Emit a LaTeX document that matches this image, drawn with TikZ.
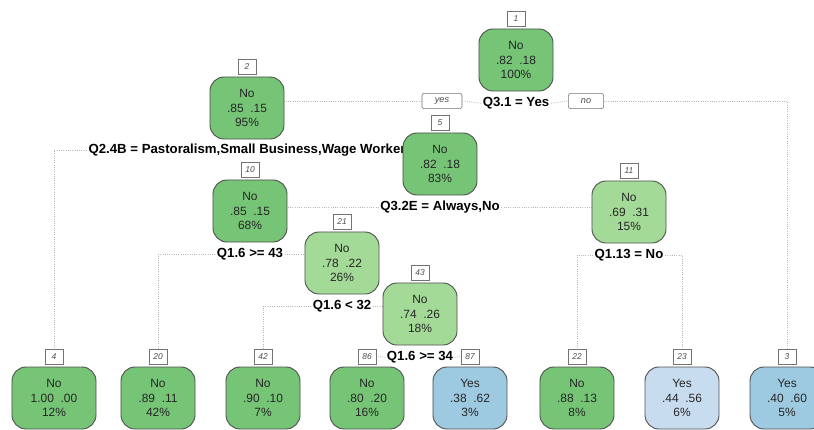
\documentclass[tikz,border=0pt]{standalone}
\usepackage{fontspec}
\setmainfont{Liberation Sans}
\usepackage{tikz}
\usetikzlibrary{positioning,backgrounds}
\definecolor{gnDark}{RGB}{118,196,118}
\definecolor{gnLight}{RGB}{164,218,152}
\definecolor{buMid}{RGB}{158,202,225}
\definecolor{buLight}{RGB}{200,220,240}
\definecolor{boxLine}{RGB}{80,80,80}

\begin{document}
\begin{tikzpicture}[
  x=0.025cm, y=-0.025cm,
  font=\fontsize{8.5}{10.5}\selectfont,
  nodebox/.style={draw=boxLine, line width=0.65pt, rounded corners=10pt, align=center,
    minimum width=1.85cm, minimum height=1.55cm, inner sep=1pt, text=black!85},
  idbox/.style={draw=boxLine!80, fill=white, font=\fontsize{6}{6}\selectfont\itshape,
    minimum width=0.45cm, minimum height=0.38cm, inner sep=1pt, text=black!70},
  yesno/.style={draw=boxLine!80, fill=white, rounded corners=1.5pt, font=\fontsize{6.5}{7}\selectfont\itshape,
    minimum height=0.38cm, inner sep=1pt, text=black!70},
  split/.style={font=\fontsize{9.4}{10}\selectfont\bfseries, inner sep=1pt},
  edge/.style={draw=gray!55, densely dotted, line width=0.6pt}
]
\clip (0,0) rectangle (814,429);

\node[nodebox, fill=gnDark] (n1) at (516,60) {No\\.82~~.18\\100\%};
\node[idbox, above=1.5pt of n1] (lab1) {1};
\node[split, below=3pt of n1] (s1) {Q3.1 = Yes};
\node[yesno, minimum width=1.0cm] (yes) at (442,101) {yes};
\node[yesno, minimum width=0.88cm] (no) at (586,101) {no};

\node[nodebox, fill=gnDark] (n2) at (247,108) {No\\.85~~.15\\95\%};
\node[idbox, above=1.5pt of n2] (lab2) {2};
\node[split, below=2pt of n2] (s2) {Q2.4B = Pastoralism,Small Business,Wage Worker};

\node[nodebox, fill=gnDark] (n5) at (440,164) {No\\.82~~.18\\83\%};
\node[idbox, above=1.5pt of n5] (lab5) {5};
\node[split, below=3pt of n5] (s5) {Q3.2E = Always,No};

\node[nodebox, fill=gnDark] (n10) at (250,211) {No\\.85~~.15\\68\%};
\node[idbox, above=1.5pt of n10] (lab10) {10};
\node[split, below=3pt of n10] (s10) {Q1.6 >= 43};

\node[nodebox, fill=gnLight] (n11) at (629,212) {No\\.69~~.31\\15\%};
\node[idbox, above=1.5pt of n11] (lab11) {11};
\node[split, below=3pt of n11] (s11) {Q1.13 = No};

\node[nodebox, fill=gnLight] (n21) at (342,263) {No\\.78~~.22\\26\%};
\node[idbox, above=1.5pt of n21] (lab21) {21};
\node[split, below=3pt of n21] (s21) {Q1.6 < 32};

\node[nodebox, fill=gnLight] (n43) at (420,314) {No\\.74~~.26\\18\%};
\node[idbox, above=1.5pt of n43] (lab43) {43};
\node[split, below=3pt of n43] (s43) {Q1.6 >= 34};

\node[nodebox, fill=gnDark, minimum width=2.1cm] (l4) at (54,398) {No\\1.00~~.00\\12\%};
\node[idbox, above=1.5pt of l4] (lab4) {4};
\node[nodebox, fill=gnDark] (l20) at (158,398) {No\\.89~~.11\\42\%};
\node[idbox, above=1.5pt of l20] (lab20) {20};
\node[nodebox, fill=gnDark] (l42) at (263,398) {No\\.90~~.10\\7\%};
\node[idbox, above=1.5pt of l42] (lab42) {42};
\node[nodebox, fill=gnDark] (l86) at (367,398) {No\\.80~~.20\\16\%};
\node[idbox, above=1.5pt of l86] (lab86) {86};
\node[nodebox, fill=buMid] (l87) at (470,398) {Yes\\.38~~.62\\3\%};
\node[idbox, above=1.5pt of l87] (lab87) {87};
\node[nodebox, fill=gnDark] (l22) at (577,398) {No\\.88~~.13\\8\%};
\node[idbox, above=1.5pt of l22] (lab22) {22};
\node[nodebox, fill=buLight] (l23) at (682,398) {Yes\\.44~~.56\\6\%};
\node[idbox, above=1.5pt of l23] (lab23) {23};
\node[nodebox, fill=buMid] (l3) at (787,398) {Yes\\.40~~.60\\5\%};
\node[idbox, above=1.5pt of l3] (lab3) {3};

\begin{scope}[on background layer]
\draw[edge] (yes.west) -| (n2.center);
\draw[edge] (s1.west) -- (yes.east);
\draw[edge] (s1.east) -- (no.west);
\draw[edge] (no.east) -| (lab3.north);
\draw[edge] (s2.west) -| (lab4.north);
\draw[edge] (s2.east) -| (n5.center);
\draw[edge] (s5.west) -| (n10.center);
\draw[edge] (s5.east) -| (n11.center);
\draw[edge] (s10.west) -| (lab20.north);
\draw[edge] (s10.east) -| (n21.center);
\draw[edge] (s21.west) -| (lab42.north);
\draw[edge] (s21.east) -| (n43.center);
\draw[edge] (s43.west) -- (lab86.east);
\draw[edge] (s43.east) -- (lab87.west);
\draw[edge] (s11.west) -| (lab22.north);
\draw[edge] (s11.east) -| (lab23.north);
\end{scope}
\end{tikzpicture}
\end{document}
